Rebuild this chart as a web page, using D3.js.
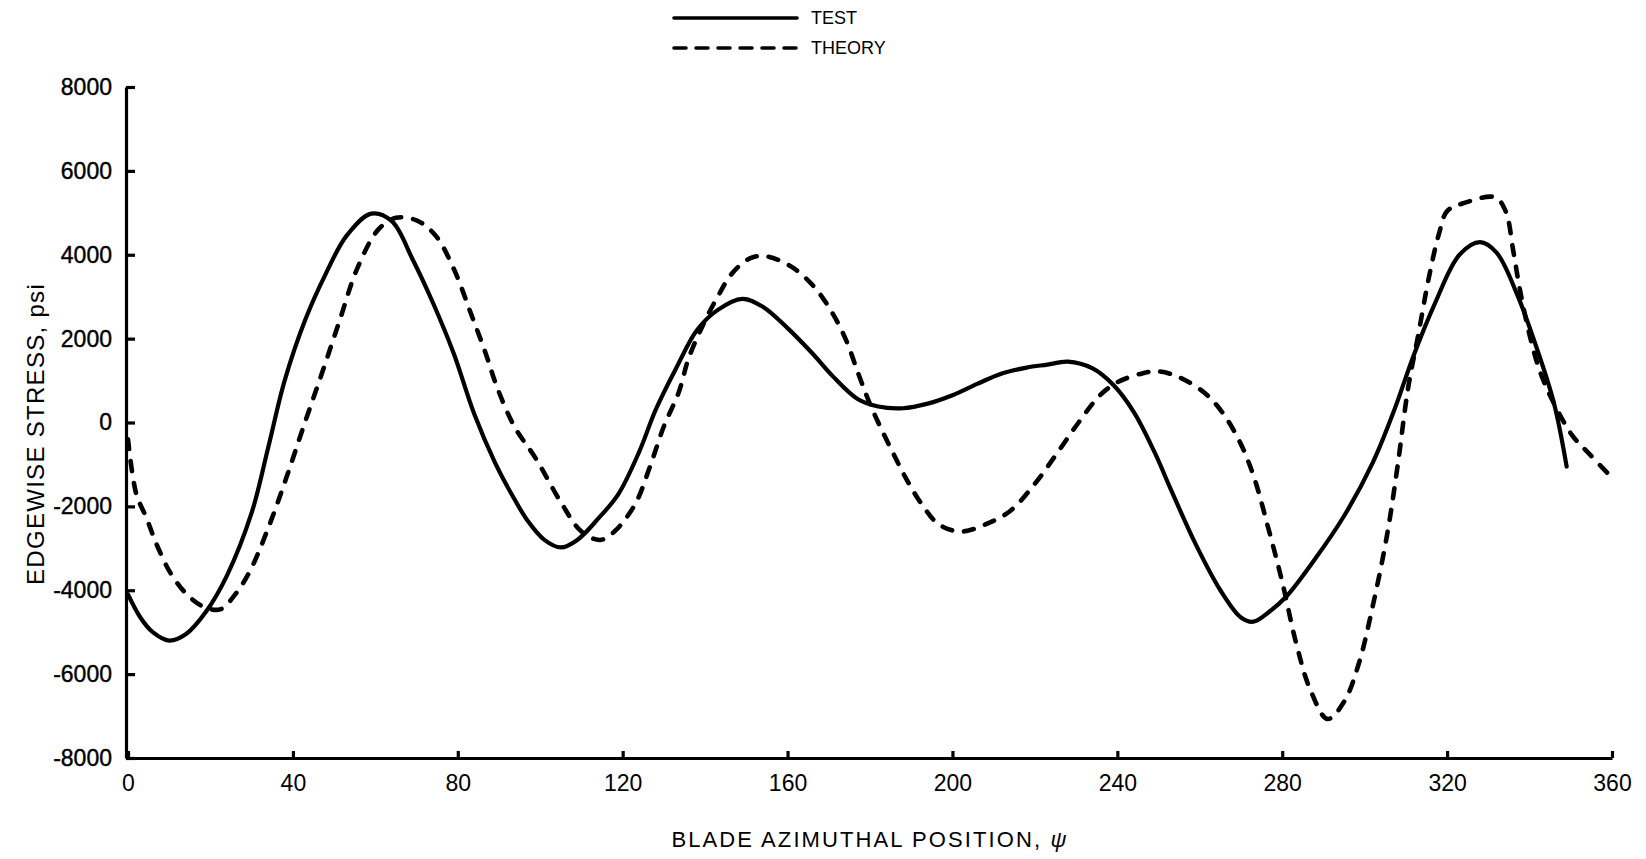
<!DOCTYPE html>
<html>
<head>
<meta charset="utf-8">
<script src="https://cdn.jsdelivr.net/npm/d3@7"></script>
<style>
  html, body { margin: 0; padding: 0; background: #fff; }
  svg { display: block; }
  text { font-family: "Liberation Sans", Arial, Helvetica, sans-serif; fill: #000; }
</style>
</head>
<body>
<svg id="chart" width="1646" height="859"></svg>
<script>
// ---- data ----
const xTicks = [0, 40, 80, 120, 160, 200, 240, 280, 320, 360];
const yTicks = [-8000, -6000, -4000, -2000, 0, 2000, 4000, 6000, 8000];

const testAz = [0, 3, 6, 10, 14, 19, 24, 30, 34, 38, 43, 48, 53, 59, 64, 69, 74, 79, 84, 89, 93, 97, 101, 105, 109, 114, 119, 124, 128, 133, 138, 143, 149, 154, 160, 166, 171, 177, 182, 188, 194, 200, 206, 212, 218, 223, 228, 234, 239, 244, 249, 253, 259, 265, 270, 273, 277, 281, 288, 295, 302, 307, 312, 317, 323, 328, 332, 337, 342, 346, 349];
const testStress = [-4100, -4650, -5000, -5200, -5050, -4500, -3650, -2150, -600, 1000, 2450, 3550, 4450, 4980, 4800, 3900, 2850, 1650, 200, -950, -1700, -2350, -2800, -2980, -2800, -2300, -1700, -700, 300, 1300, 2200, 2680, 2950, 2760, 2250, 1650, 1100, 560, 380, 340, 450, 650, 920, 1170, 1310, 1380, 1450, 1290, 900, 250, -700, -1600, -2900, -4000, -4650, -4750, -4500, -4150, -3250, -2230, -950, 250, 1630, 2830, 4000, 4300, 4050, 3050, 1700, 430, -1050];

const theoryAz = [0, 2, 4.5, 7, 10.5, 15, 19, 22.5, 26, 29.6, 34, 38.3, 42.6, 47, 51.3, 55.6, 60.8, 65, 70, 74.6, 79, 83.3, 86.8, 89.5, 93.7, 99, 105, 110, 114.5, 118, 123, 126.6, 130, 133.6, 136, 139.6, 143, 146.5, 151, 155, 161, 166.5, 171, 174.3, 177, 179.5, 182, 185.6, 189, 192.5, 196.7, 202, 208, 214, 220, 225.4, 230.6, 235.8, 240, 246, 250, 255, 261, 265.4, 269.8, 273.2, 276.6, 280, 283.4, 286.8, 291, 295, 298.6, 302, 305.4, 308, 310.5, 313, 315.6, 318, 320, 324, 331.6, 334.2, 336, 337.6, 340, 342.7, 346, 350.3, 354.6, 360];
const theoryStress = [-400, -1700, -2280, -2920, -3620, -4170, -4420, -4450, -4100, -3540, -2520, -1350, -90, 1160, 2420, 3670, 4610, 4880, 4820, 4460, 3670, 2570, 1640, 850, -90, -870, -1900, -2600, -2800, -2600, -1950, -1060, -90, 720, 1530, 2350, 2990, 3550, 3920, 3960, 3710, 3230, 2590, 1940, 1210, 560, 0, -730, -1380, -1940, -2430, -2600, -2430, -2110, -1460, -730, 0, 650, 960, 1170, 1220, 1080, 720, 250, -480, -1320, -2510, -3800, -5270, -6370, -7070, -6660, -5740, -4360, -2700, -1030, 800, 2090, 3470, 4490, 5040, 5230, 5370, 5040, 4120, 3200, 2090, 1170, 440, -300, -760, -1320];

const legendLabels = ["TEST", "THEORY"];
const xTitle = "BLADE AZIMUTHAL POSITION, ";
const xTitleSymbol = "\u03C8";
const yTitle = "EDGEWISE STRESS, psi";

// ---- drawing ----
const svg = d3.select("#chart");
const x = d3.scaleLinear().domain([0, 360]).range([128, 1612]);
const y = d3.scaleLinear().domain([-8000, 8000]).range([758, 87]);

const xAxis = d3.axisBottom(x).tickValues(xTicks).tickFormat(d => String(d))
  .tickSizeInner(-7).tickSizeOuter(0).tickPadding(17);
const yAxis = d3.axisLeft(y).tickValues(yTicks).tickFormat(d => String(d))
  .tickSizeInner(-9).tickSizeOuter(0).tickPadding(14);

const gx = svg.append("g").attr("transform", `translate(0,${y(-8000)})`).call(xAxis);
gx.select(".domain").attr("stroke", "#000").attr("stroke-width", 3.2);
gx.selectAll(".tick line").attr("stroke", "#000").attr("stroke-width", 3.2);
gx.selectAll(".tick text").style("font-size", "23px").attr("dy", "0.71em");

const gy = svg.append("g").attr("transform", `translate(${x(0) - 2},0)`).call(yAxis);
gy.select(".domain").attr("stroke", "#000").attr("stroke-width", 3.2);
gy.selectAll(".tick line").attr("stroke", "#000").attr("stroke-width", 3.2);
gy.selectAll(".tick text").style("font-size", "23px")
  .attr("stroke", "#000").attr("stroke-width", 0.4);

const line = d3.line().curve(d3.curveCatmullRom.alpha(0.5));

svg.append("path")
  .attr("d", line(testAz.map((a, i) => [x(a), y(testStress[i])])))
  .attr("fill", "none").attr("stroke", "#000").attr("stroke-width", 4.2)
  .attr("stroke-linecap", "round").attr("stroke-linejoin", "round");

svg.append("path")
  .attr("d", line(theoryAz.map((a, i) => [x(a), y(theoryStress[i])])))
  .attr("fill", "none").attr("stroke", "#000").attr("stroke-width", 4.6)
  .attr("stroke-dasharray", "10,12").attr("stroke-linecap", "round");

// legend
const lg = svg.append("g");
lg.append("line").attr("x1", 674).attr("x2", 797).attr("y1", 18).attr("y2", 18)
  .attr("stroke", "#000").attr("stroke-width", 3.6).attr("stroke-linecap", "round");
lg.append("line").attr("x1", 674).attr("x2", 797).attr("y1", 48).attr("y2", 48)
  .attr("stroke", "#000").attr("stroke-width", 3.6).attr("stroke-dasharray", "12,10")
  .attr("stroke-linecap", "round");
lg.selectAll("text.lgt").data(legendLabels).enter().append("text")
  .attr("class", "lgt")
  .attr("x", 811).attr("y", (d, i) => 18 + i * 30).attr("dy", "0.36em")
  .style("font-size", "18px").text(d => d);

// axis titles
const xt = svg.append("text").attr("x", 870).attr("y", 839).attr("text-anchor", "middle")
  .attr("dy", "0.36em").style("font-size", "22px").style("letter-spacing", "2.1px");
xt.append("tspan").text(xTitle);
xt.append("tspan").style("font-style", "italic").text(xTitleSymbol);
svg.append("text").attr("transform", "translate(35,434) rotate(-90)")
  .attr("text-anchor", "middle").attr("dy", "0.36em").style("font-size", "24px")
  .style("letter-spacing", "1.3px").text(yTitle);
</script>
</body>
</html>
